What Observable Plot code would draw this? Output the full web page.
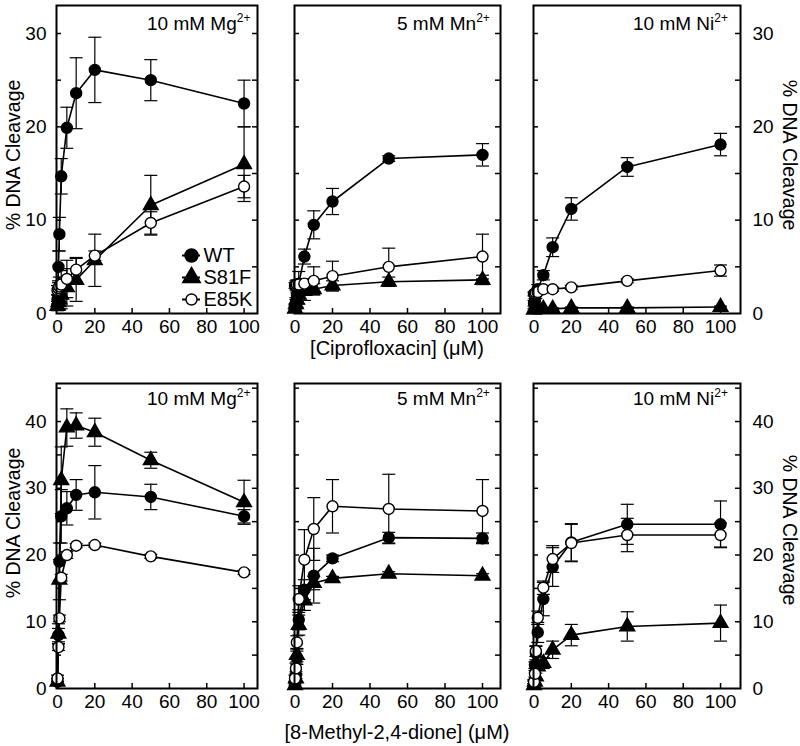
<!DOCTYPE html>
<html>
<head>
<meta charset="utf-8">
<script src="https://cdn.jsdelivr.net/npm/d3@7"></script>
<script src="https://cdn.jsdelivr.net/npm/@observablehq/plot@0.6"></script>
<style>
  body { margin: 0; background: #fff; }
  #fig { position: relative; width: 800px; height: 746px; font-family: "Liberation Sans", Arial, sans-serif; color: #000; overflow: hidden; }
  .abs { position: absolute; }
  .lbl { position: absolute; font-size: 19px; line-height: 1; white-space: nowrap; }
  .lbl sup { font-size: 12px; position: relative; top: -8px; vertical-align: baseline; line-height: 0; }
  .xt { position: absolute; font-size: 20px; line-height: 1; white-space: nowrap; transform: translateX(-50%); }
  .yt { position: absolute; font-size: 19.5px; line-height: 1; white-space: nowrap; }
</style>
</head>
<body>
<div id="fig"></div>
<script>
// ---------------- data ----------------
const conc = [0, 0.5, 1, 2, 5, 10, 20, 50, 100];
const seriesNames = ["WT", "S81F", "E85K"];
const xTickLabels = [0, 20, 40, 60, 80, 100];
const xTickMarks = [20, 40, 60, 80, 100];
const yLabelsTop = [0, 10, 20, 30];
const yMinorTop = [5, 10, 15, 20, 25, 30];
const yLabelsBottom = [0, 10, 20, 30, 40];
const yMinorBottom = [5, 10, 15, 20, 25, 30, 35, 40, 45];
const drugTitles = ["[Ciprofloxacin] (\u03bcM)", "[8-Methyl-2,4-dione] (\u03bcM)"];
const metalNames = ["10 mM Mg", "5 mM Mn", "10 mM Ni"];
const yTitle = "% DNA Cleavage";

// Ciprofloxacin, 10 mM Mg2+
const cipMg_WT = [1.5, 5.0, 8.5, 14.7, 19.9, 23.6, 26.1, 25.0, 22.5];
const cipMg_WT_err = [0.5, 1.7, 1.8, 1.9, 2.2, 3.8, 3.5, 2.2, 2.5];
const cipMg_S81F = [0.8, 1.2, 1.5, 2.0, 2.8, 3.6, 5.7, 11.6, 16.0];
const cipMg_S81F_err = [0.5, 0.8, 1.0, 1.5, 2.0, 2.3, 2.8, 3.2, 4.0];
const cipMg_E85K = [2.5, 2.7, 2.9, 3.1, 3.7, 4.7, 6.2, 9.7, 13.6];
const cipMg_E85K_err = [0.5, 0.8, 1.0, 1.5, 2.0, 1.3, 0.5, 1.2, 1.2];
// Ciprofloxacin, 5 mM Mn2+
const cipMn_WT = [0.7, 1.2, 2.0, 3.2, 6.1, 9.5, 12.0, 16.6, 17.0];
const cipMn_WT_err = [0.3, 0.5, 0.8, 1.3, 0.8, 1.5, 1.4, 0.3, 1.2];
const cipMn_S81F = [0.5, 1.0, 1.5, 2.0, 2.4, 2.6, 3.0, 3.4, 3.6];
const cipMn_S81F_err = [0.3, 0.5, 0.8, 1.0, 1.0, 0.6, 0.5, 0.5, 0.5];
const cipMn_E85K = [3.0, 3.0, 3.1, 3.1, 3.2, 3.5, 4.0, 5.0, 6.1];
const cipMn_E85K_err = [0.3, 0.5, 0.5, 0.5, 0.5, 1.5, 1.6, 2.0, 2.4];
// Ciprofloxacin, 10 mM Ni2+
const cipNi_WT = [1.1, 1.3, 2.0, 2.6, 4.1, 7.1, 11.2, 15.7, 18.1];
const cipNi_WT_err = [0.3, 0.3, 0.4, 0.5, 0.5, 1.0, 1.2, 1.0, 1.2];
const cipNi_S81F = [0.4, 0.5, 0.5, 0.5, 0.5, 0.5, 0.6, 0.6, 0.7];
const cipNi_S81F_err = [0.1, 0.1, 0.1, 0.1, 0.1, 0.1, 0.1, 0.1, 0.1];
const cipNi_E85K = [2.1, 2.1, 2.2, 2.3, 2.6, 2.6, 2.8, 3.5, 4.6];
const cipNi_E85K_err = [0.2, 0.2, 0.2, 0.2, 0.2, 0.2, 0.2, 0.2, 0.6];
// 8-Methyl-2,4-dione, 10 mM Mg2+
const dioMg_WT = [1.0, 8.0, 19.0, 25.8, 27.0, 29.0, 29.4, 28.7, 25.8];
const dioMg_WT_err = [0.5, 1.0, 2.8, 4.0, 2.5, 2.3, 4.0, 1.9, 1.0];
const dioMg_S81F = [1.0, 8.2, 16.3, 31.2, 39.1, 39.4, 38.4, 34.2, 27.9];
const dioMg_S81F_err = [0.5, 1.5, 3.0, 5.0, 2.8, 1.9, 2.1, 1.2, 3.3];
const dioMg_E85K = [1.5, 6.2, 10.5, 16.6, 20.0, 21.4, 21.5, 19.8, 17.4];
const dioMg_E85K_err = [0.5, 0.5, 0.5, 0.5, 0.5, 0.3, 0.3, 0.3, 0.3];
// 8-Methyl-2,4-dione, 5 mM Mn2+
const dioMn_WT = [0.8, 2.0, 4.6, 10.3, 14.8, 16.9, 19.5, 22.6, 22.5];
const dioMn_WT_err = [0.3, 0.5, 1.0, 1.5, 1.5, 4.1, 0.5, 0.8, 0.8];
const dioMn_S81F = [0.5, 1.5, 5.0, 9.5, 13.2, 15.8, 16.5, 17.2, 16.9];
const dioMn_S81F_err = [0.3, 0.5, 1.0, 1.5, 1.5, 1.0, 0.3, 0.3, 0.3];
const dioMn_E85K = [1.5, 3.0, 6.9, 13.4, 19.3, 23.9, 27.3, 26.9, 26.6];
const dioMn_E85K_err = [0.5, 0.8, 1.0, 2.0, 4.5, 4.7, 4.0, 5.2, 4.7];
// 8-Methyl-2,4-dione, 10 mM Ni2+
const dioNi_WT = [1.0, 3.5, 5.3, 8.4, 13.4, 18.2, 21.9, 24.6, 24.6];
const dioNi_WT_err = [0.3, 0.5, 1.0, 1.5, 2.5, 2.9, 2.8, 3.0, 3.5];
const dioNi_S81F = [0.5, 1.0, 1.8, 3.3, 3.8, 5.8, 8.0, 9.3, 9.8];
const dioNi_S81F_err = [0.2, 0.3, 0.5, 0.5, 0.8, 1.3, 1.6, 2.2, 2.7];
const dioNi_E85K = [1.0, 2.2, 5.6, 10.6, 15.1, 19.4, 21.8, 23.0, 23.0];
const dioNi_E85K_err = [0.3, 0.5, 0.8, 1.0, 1.0, 2.0, 2.8, 2.5, 1.8];

// ---------------- layout ----------------
const fig = document.getElementById("fig");
const FONT = "Liberation Sans, Arial, sans-serif";
const cols = [
  {left: 56, right: 257, dom: [-0.54, 107.2]},
  {left: 294, right: 500, dom: [-0.27, 109.6]},
  {left: 533, right: 740, dom: [-0.27, 110.7]}
];
const rowsL = [
  {top: 5, bottom: 313, dom: [0, 33], labels: yLabelsTop, minor: yMinorTop, lblBase: 30},
  {top: 383, bottom: 688, dom: [0, 45.7], labels: yLabelsBottom, minor: yMinorBottom, lblBase: 405}
];
const panelData = [
  [[cipMg_WT, cipMg_WT_err, cipMg_S81F, cipMg_S81F_err, cipMg_E85K, cipMg_E85K_err],
   [cipMn_WT, cipMn_WT_err, cipMn_S81F, cipMn_S81F_err, cipMn_E85K, cipMn_E85K_err],
   [cipNi_WT, cipNi_WT_err, cipNi_S81F, cipNi_S81F_err, cipNi_E85K, cipNi_E85K_err]],
  [[dioMg_WT, dioMg_WT_err, dioMg_S81F, dioMg_S81F_err, dioMg_E85K, dioMg_E85K_err],
   [dioMn_WT, dioMn_WT_err, dioMn_S81F, dioMn_S81F_err, dioMn_E85K, dioMn_E85K_err],
   [dioNi_WT, dioNi_WT_err, dioNi_S81F, dioNi_S81F_err, dioNi_E85K, dioNi_E85K_err]]
];
const superscripts = ["2+", "2+", "2+"];
const labelLeft = [147, 397, 633];

const capSymbol = {
  draw(ctx, size) {
    const r = Math.sqrt(size / Math.PI);
    ctx.moveTo(-r, 0);
    ctx.lineTo(r, 0);
  }
};
const styleBySeries = {
  WT: {symbol: "circle", fill: "black", stroke: "black"},
  S81F: {symbol: "triangle", fill: "black", stroke: "black"},
  E85K: {symbol: "circle", fill: "white", stroke: "black"}
};

function buildRows(arrs) {
  const out = {};
  seriesNames.forEach((s, k) => {
    const vals = arrs[2 * k], errs = arrs[2 * k + 1];
    out[s] = conc.map((c, i) => ({series: s, x: c, y: vals[i], e: errs[i]}));
  });
  return out;
}

const mL = 50, mR = 50, mT = 10, mB = 34;
const TICKFS = 19;

rowsL.forEach((row, ri) => {
  cols.forEach((col, ci) => {
    const W = col.right - col.left, H = row.bottom - row.top;
    const bySeries = buildRows(panelData[ri][ci]);
    const all = seriesNames.flatMap(s => bySeries[s]);
    const marks = [
      Plot.tickY(row.minor, {y: d => d, insetRight: W - 5, strokeWidth: 1.5}),
      Plot.tickY(row.minor, {y: d => d, insetLeft: W - 5, strokeWidth: 1.5}),
      Plot.tickX(xTickMarks, {x: d => d, insetTop: H - 5, strokeWidth: 1.5}),
      Plot.axisX({ticks: xTickLabels, tickSize: 0, tickPadding: 6, label: null, fontSize: TICKFS})
    ];
    if (ci === 0) marks.push(Plot.axisY({anchor: "left", ticks: row.labels, tickSize: 0, tickPadding: 10, label: null, fontSize: TICKFS}));
    if (ci === 2) marks.push(Plot.axisY({anchor: "right", ticks: row.labels, tickSize: 0, tickPadding: 12, label: null, fontSize: TICKFS}));
    marks.push(Plot.line(all, {x: "x", y: "y", z: "series", stroke: "black", strokeWidth: 1.6}));
    marks.push(Plot.ruleX(all, {x: "x", y1: d => Math.max(0, d.y - d.e), y2: d => d.y + d.e, stroke: "black", strokeWidth: 1.2}));
    marks.push(Plot.dot(all, {x: "x", y: d => d.y + d.e, symbol: capSymbol, r: 6.5, stroke: "black", fill: "none", strokeWidth: 1.2}));
    marks.push(Plot.dot(all, {x: "x", y: d => Math.max(0, d.y - d.e), symbol: capSymbol, r: 6.5, stroke: "black", fill: "none", strokeWidth: 1.2}));
    seriesNames.forEach(s => {
      const st = styleBySeries[s];
      marks.push(Plot.dot(bySeries[s], {x: "x", y: "y", symbol: st.symbol, r: 5.5, fill: st.fill, stroke: st.stroke, strokeWidth: 1.4}));
    });
    marks.push(Plot.frame({stroke: "black", strokeWidth: 2}));
    const svg = Plot.plot({
      width: W + mL + mR,
      height: H + mT + mB,
      marginLeft: mL, marginRight: mR, marginTop: mT, marginBottom: mB,
      x: {domain: col.dom},
      y: {domain: row.dom, axis: ci === 1 ? null : undefined},
      style: {fontFamily: FONT, fontSize: TICKFS + "px", background: "transparent", color: "black", overflow: "visible"},
      marks
    });
    svg.classList.add("abs");
    svg.style.left = (col.left - mL) + "px";
    svg.style.top = (row.top - mT) + "px";
    fig.appendChild(svg);

    // panel label
    const lbl = document.createElement("div");
    lbl.className = "lbl";
    lbl.style.left = labelLeft[ci] + "px";
    lbl.style.top = (row.lblBase - 0.8465 * 19) + "px";
    lbl.innerHTML = metalNames[ci] + "<sup>" + superscripts[ci] + "</sup>";
    fig.appendChild(lbl);
  });
});

// x-axis titles
[[397, 355], [397, 739]].forEach(([cx, base], i) => {
  const d = document.createElement("div");
  d.className = "xt";
  d.style.left = cx + "px";
  d.style.top = (base - 0.8465 * 20) + "px";
  d.textContent = drugTitles[i];
  fig.appendChild(d);
});

// y-axis titles
[[13.5, 155, -90], [788.5, 155, 90], [13.5, 523, -90], [788.5, 530, 90]].forEach(([cx, cy, rot]) => {
  const d = document.createElement("div");
  d.className = "yt";
  d.style.left = cx + "px";
  d.style.top = cy + "px";
  d.style.transform = `translate(-50%,-50%) rotate(${rot}deg)`;
  d.textContent = yTitle;
  fig.appendChild(d);
});

// legend (top-left panel)
const lg = Plot.plot({
  width: 100, height: 68,
  marginLeft: 6, marginRight: 76, marginTop: 12, marginBottom: 12,
  x: {domain: [0, 1], axis: null},
  y: {type: "point", domain: seriesNames, padding: 0},
  style: {fontFamily: FONT, fontSize: "20px", background: "transparent", color: "black", overflow: "visible"},
  marks: [
    Plot.ruleY(seriesNames, {y: d => d, stroke: "black", strokeWidth: 2}),
    Plot.axisY({anchor: "right", tickSize: 0, tickPadding: 3, label: null, fontSize: 20}),
    Plot.dot(["WT"], {y: d => d, symbol: "circle", r: 6.5, fill: "black", stroke: "black"}),
    Plot.dot(["S81F"], {y: d => d, symbol: "triangle", r: 6.5, fill: "black", stroke: "black"}),
    Plot.dot(["E85K"], {y: d => d, symbol: "circle", r: 5.5, fill: "white", stroke: "black", strokeWidth: 1.4})
  ]
});
lg.classList.add("abs");
lg.style.left = "176px";
lg.style.top = "243px";
fig.appendChild(lg);
</script>
</body>
</html>
